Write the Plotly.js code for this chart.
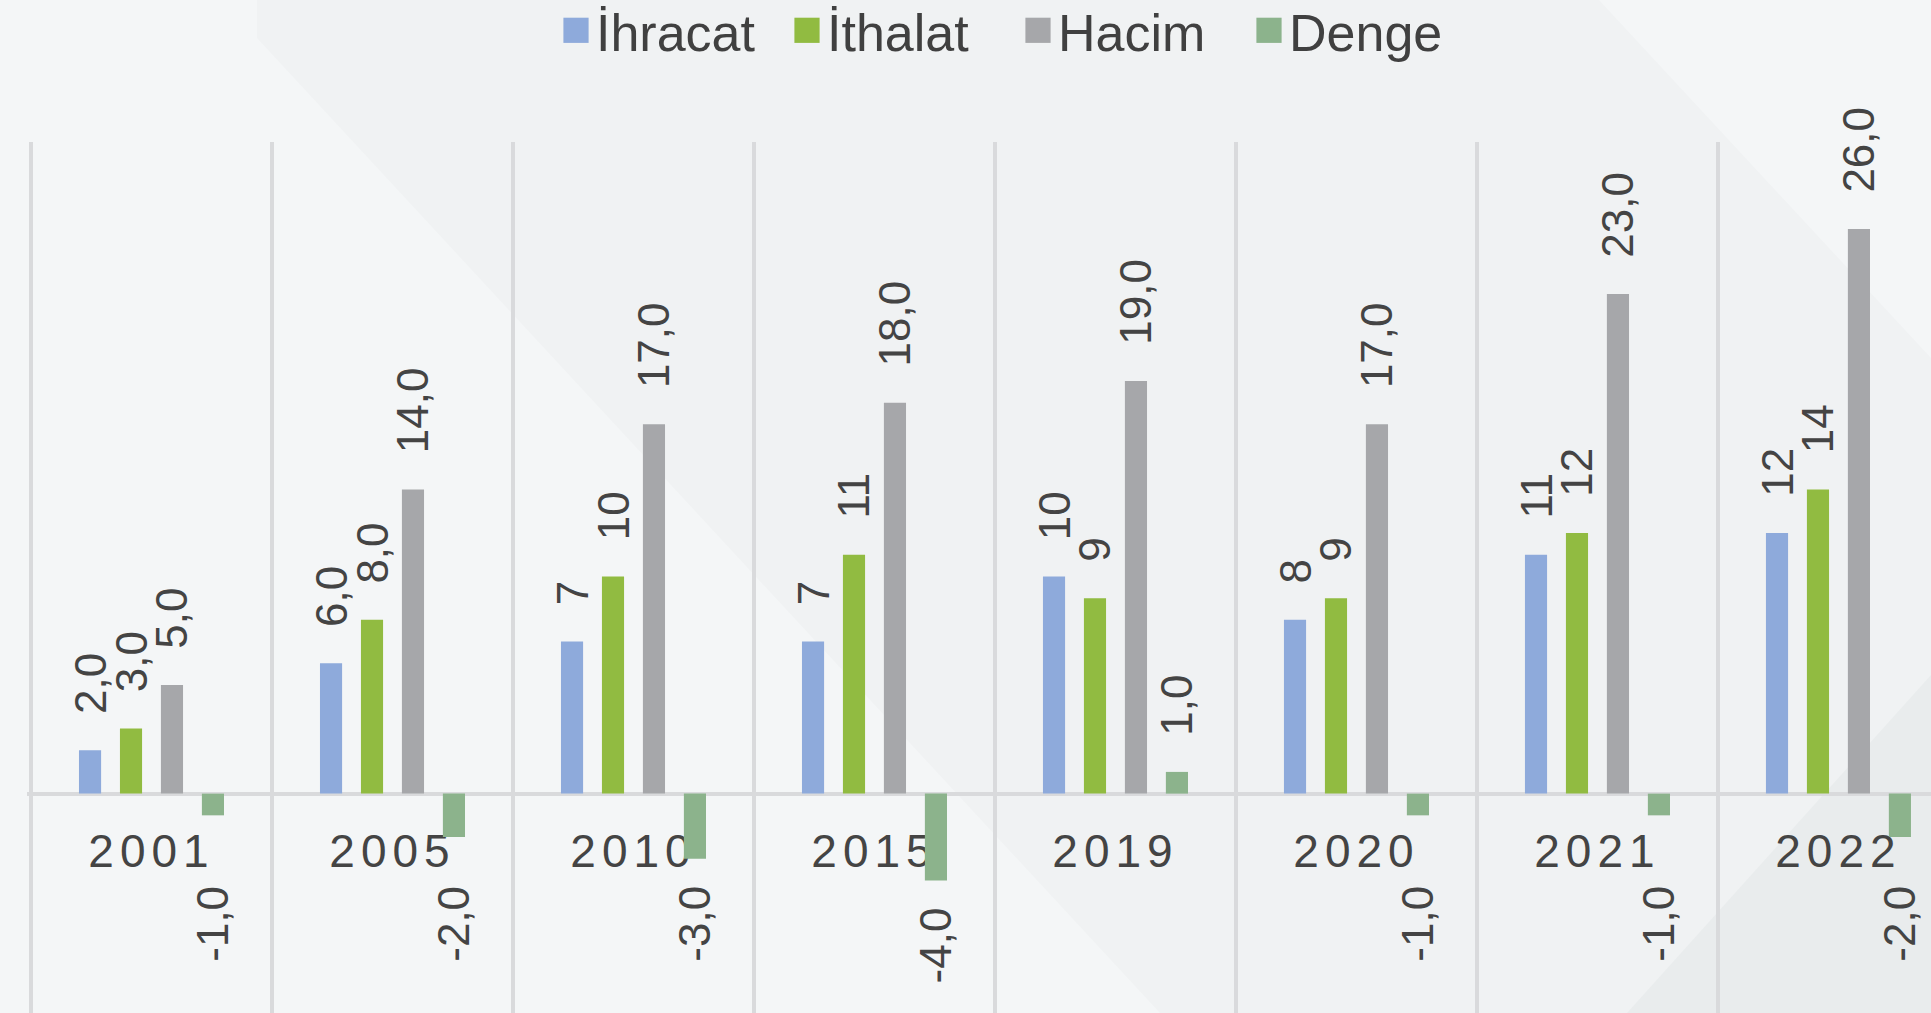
<!DOCTYPE html>
<html><head><meta charset="utf-8">
<script src="https://cdn.plot.ly/plotly-3.0.1.min.js"></script>
<style>
html,body{margin:0;padding:0;}
body{width:1931px;height:1013px;overflow:hidden;position:relative;background:#f4f6f7;}
.bg{position:absolute;left:0;top:0;width:1931px;height:1013px;}
#bg1{background:#f0f2f3;clip-path:polygon(257px 0,1599px 0,1931px 358px,1931px 1013px,1160px 1013px,257px 38px);}
#bg2{background:#e9eced;clip-path:polygon(1931px 675px,1931px 1013px,1627px 1013px);}
#chart{position:absolute;left:0;top:0;width:1931px;height:1013px;}
#chart .xtick text{letter-spacing:6px;}
</style></head>
<body>
<div class="bg" id="bg1"></div><div class="bg" id="bg2"></div>
<div id="chart"></div>
<script>
const categories = ["2001","2005","2010","2015","2019","2020","2021","2022"];
const ihracat = [2,6,7,7,10,8,11,12];
const ithalat = [3,8,10,11,9,9,12,14];
const hacim   = [5,14,17,18,19,17,23,26];
const denge   = [-1,-2,-3,-4,1,-1,-1,-2];
const ihracatLabels = ["2,0","6,0","7","7","10","8","11","12"];
const ithalatLabels = ["3,0","8,0","10","11","9","9","12","14"];
const hacimLabels   = ["5,0","14,0","17,0","18,0","19,0","17,0","23,0","26,0"];
const dengeLabels   = ["-1,0","-2,0","-3,0","-4,0","1,0","-1,0","-1,0","-2,0"];
const seriesNames = ["İhracat","İthalat","Hacim","Denge"];
const colors = ["#8eaadb","#91bb41","#a6a7aa","#8cb38c"];

const FONT = "Liberation Sans, Arial, sans-serif";
const TXT = "#444444";
const PAD = "\u00a0\u00a0\u2009";
const BARGAP = 0.32;
const LABEL_FLOOR = -3;
const YR = [-10.1, 30];
const XR = [-0.5166, 7.384];

function barTrace(name, y, text, color, tmpl){
  return {
    type:'bar', name:name, x:categories, y:y, text:text,
    texttemplate: tmpl || (PAD + '%{text}'), textposition:'outside', textangle:-90,
    constraintext:'none', cliponaxis:false,
    textfont:{family:FONT, size:44, color:TXT},
    marker:{color:color, line:{width:0}}, hoverinfo:'skip'
  };
}
const dengeTmpl = denge.map(v => v > 0 ? PAD + '%{text}' : '');
const data = [
  barTrace(seriesNames[0], ihracat, ihracatLabels, colors[0]),
  barTrace(seriesNames[1], ithalat, ithalatLabels, colors[1]),
  barTrace(seriesNames[2], hacim, hacimLabels, colors[2]),
  barTrace(seriesNames[3], denge, dengeLabels, colors[3], dengeTmpl)
];

const slot = (1 - BARGAP) / 4;
const annotations = [];
denge.forEach((v,i)=>{
  if (v < 0) annotations.push({
    x: i + 1.5*slot, y: Math.min(v, LABEL_FLOOR), xref:'x', yref:'y',
    yshift:-25, xanchor:'center', yanchor:'top', textangle:-90,
    text: dengeLabels[i], showarrow:false,
    font:{family:FONT, size:44, color:TXT}
  });
});

const layout = {
  width:1931, height:1013,
  margin:{l:27, r:0, t:142, b:0, pad:0, autoexpand:false},
  paper_bgcolor:'rgba(0,0,0,0)', plot_bgcolor:'rgba(0,0,0,0)',
  barmode:'group', bargap:BARGAP, bargroupgap:0.46,
  font:{family:FONT, color:TXT},
  showlegend:true,
  legend:{orientation:'h', x:(556-27)/1904, y:1 + 152/871,
    xanchor:'left', yanchor:'top', font:{family:FONT, size:52, color:'#404040'},
    entrywidth:186, entrywidthmode:'pixels', bgcolor:'rgba(0,0,0,0)', traceorder:'normal'},
  xaxis:{type:'category', range:XR, tickson:'boundaries', showgrid:true,
    gridcolor:'#d9dadc', gridwidth:4, ticks:'', showline:false, zeroline:false,
    anchor:'free', position: -YR[0]/(YR[1]-YR[0]), ticklabelstandoff:26,
    tickfont:{family:FONT, size:46, color:TXT}, layer:'below traces'},
  yaxis:{range:YR, showgrid:false, zeroline:true, zerolinecolor:'#d9dadc', zerolinewidth:4,
    showticklabels:false, ticks:''},
  annotations: annotations
};

Plotly.newPlot('chart', data, layout, {staticPlot:true}).then(gd=>{
  gd.querySelectorAll('.legendpoints path').forEach(p=>{
    const t = p.getAttribute('transform') || '';
    p.setAttribute('transform', t + ' scale(2.1)');
  });
});
</script>
</body></html>
